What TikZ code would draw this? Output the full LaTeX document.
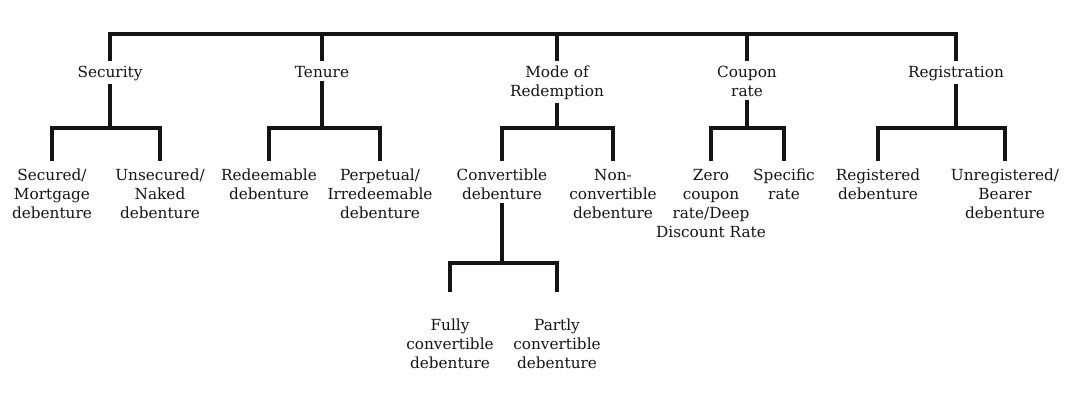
\documentclass[tikz,border=0pt]{standalone}
\usepackage{fontspec}
\setmainfont{DejaVu Serif}
\definecolor{ink}{HTML}{141414}
\begin{document}
\begin{tikzpicture}[x=1pt,y=-1pt,
  lbl/.style={align=center,inner xsep=0pt,inner ysep=3pt,anchor=north,text=ink,
    font=\fontsize{15.3}{19}\selectfont},
  edge/.style={line width=3.3pt,draw=ink},
  tohead/.style={edge,shorten >=2pt},
  toleaf/.style={edge,shorten >=5pt}]
\useasboundingbox (0,0) rectangle (1067,416);
% headings
\node[lbl] (sec) at (110,63) {Security};
\node[lbl] (ten) at (322,63) {Tenure};
\node[lbl] (mod) at (557,63) {Mode of\\Redemption};
\node[lbl] (cou) at (747,63) {Coupon\\rate};
\node[lbl] (reg) at (956,63) {Registration};
% leaves
\node[lbl] (s1) at (52,166) {Secured/\\Mortgage\\debenture};
\node[lbl] (s2) at (160,166) {Unsecured/\\Naked\\debenture};
\node[lbl] (t1) at (269,166) {Redeemable\\debenture};
\node[lbl] (t2) at (380,166) {Perpetual/\\Irredeemable\\debenture};
\node[lbl] (m1) at (502,166) {Convertible\\debenture};
\node[lbl] (m2) at (613,166) {Non-\\convertible\\debenture};
\node[lbl] (c1) at (711,166) {Zero\\coupon\\rate/Deep\\Discount Rate};
\node[lbl] (c2) at (784,166) {Specific\\rate};
\node[lbl] (r1) at (878,166) {Registered\\debenture};
\node[lbl] (r2) at (1005,166) {Unregistered/\\Bearer\\debenture};
\node[lbl] (f1) at (450,316) {Fully\\convertible\\debenture};
\node[lbl] (f2) at (557,316) {Partly\\convertible\\debenture};
% top bar
\coordinate (top) at (557,34);
\foreach \h in {sec,ten,mod,cou,reg}
  \draw[tohead] (top) -| (\h.north);
% second level
\foreach \p/\a/\b in {sec/s1/s2,ten/t1/t2,mod/m1/m2,cou/c1/c2,reg/r1/r2}{
  \coordinate (j\p) at (\p.south |- 0,128);
  \draw[edge] (\p.south) -- (j\p);
  \draw[toleaf] (j\p) -| (\a.north);
  \draw[toleaf] (j\p) -| (\b.north);
}
% third level
\coordinate (jm1) at (m1.south |- 0,263);
\draw[edge] (m1.south) -- (jm1);
\draw[edge,shorten >=24pt] (jm1) -| (f1.north);
\draw[edge,shorten >=24pt] (jm1) -| (f2.north);
\end{tikzpicture}
\end{document}
